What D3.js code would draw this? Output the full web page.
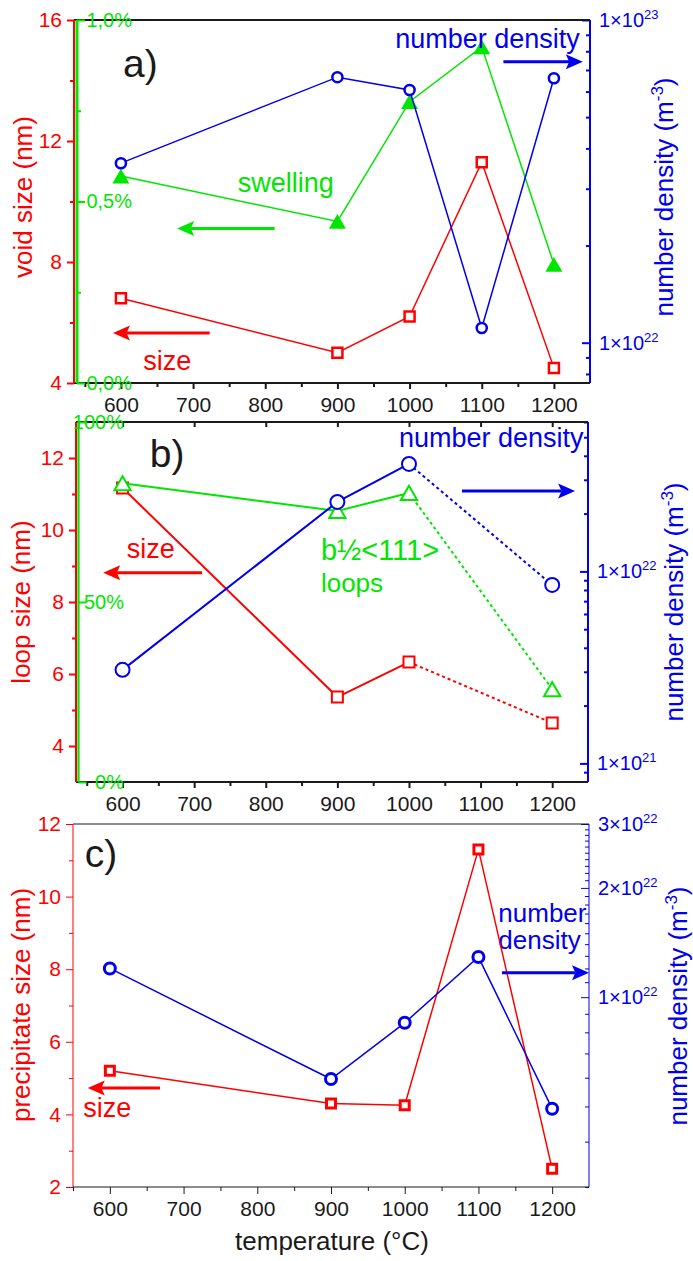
<!DOCTYPE html>
<html>
<head>
<meta charset="utf-8">
<title>voids, loops and precipitates vs temperature</title>
<script src="https://cdn.jsdelivr.net/npm/d3@7/dist/d3.min.js"></script>
<style>
  body { margin: 0; background: #fff; }
  svg text { font-family: "Liberation Sans", Arial, Helvetica, sans-serif; }
</style>
</head>
<body>
<div id="chart"></div>
<script>
// values
var tempsA = [600, 900, 1000, 1100, 1200];
var voidSize = [6.8, 5.0, 6.2, 11.3, 4.5];                      // nm
var swelling = [0.57, 0.445, 0.775, 0.926, 0.327];              // %
var voidDensity = [3.6e22, 6.65e22, 6.07e22, 1.11e22, 6.6e22];  // m^-3

var tempsB = [600, 900, 1000, 1200];
var loopSize = [11.17, 5.36, 6.33, 4.64];
var loopFraction = [83, 75.3, 80.3, 25.8];                      // % of b1/2<111>
var loopDensity = [3.07e21, 2.3e22, 3.63e22, 8.5e21];

var tempsC = [600, 900, 1000, 1100, 1200];
var precSize = [5.2, 4.3, 4.25, 11.3, 2.5];
var precDensity = [1.2e22, 5.95e21, 8.5e21, 1.29e22, 4.93e21];

// ticks
var tempTicks = [600, 700, 800, 900, 1000, 1100, 1200];
var tempMinor = [550, 650, 750, 850, 950, 1050, 1150];
var voidTicks = [4, 8, 12, 16], voidMinor = [6, 10, 14];
var swellTicks = [0, 0.5, 1], swellMinor = [0.25, 0.75];
var loopTicks = [4, 6, 8, 10, 12], loopMinor = [5, 7, 9, 11];
var fracTicks = [0, 50, 100];
var precTicks = [2, 4, 6, 8, 10, 12], precMinor = [3, 5, 7, 9, 11];
var densTicksA = [1e22, 1e23];
var densMinorA = [8e21, 9e21, 2e22, 3e22, 4e22, 5e22, 6e22, 7e22, 8e22, 9e22];
var densTicksB = [1e21, 1e22];
var densMinorB = [9e20, 2e21, 3e21, 4e21, 5e21, 6e21, 7e21, 8e21, 9e21, 2e22, 3e22, 4e22, 5e22, 6e22];
var densTicksC = [1e22, 2e22, 3e22];
var densMinorC = d3.range(3, 30).filter(function (k) { return k != 10 && k != 20; })
                   .map(function (k) { return k * 1e21; });

var RED = "#ff0000", GREEN = "#00e600", BLUE = "#0000ee", INK = "#1a1a1a";

var svg = d3.select("#chart").append("svg").attr("width", 693).attr("height", 1261);

function tidy(g, color, w, fs) {
  g.select(".domain").remove();
  g.selectAll(".tick line").attr("stroke", color).attr("stroke-width", w);
  g.selectAll(".tick text").attr("fill", color).style("font-size", fs || "21px");
  return g;
}

function axisX(g, x, y0, o) {
  tidy(g.append("g").attr("transform", "translate(0," + y0 + ")")
    .call(d3.axisBottom(x).tickValues(tempTicks).tickFormat(d3.format("d"))
      .tickSize(o.major).tickPadding(o.pad).tickSizeOuter(0)), INK, o.w);
  tidy(g.append("g").attr("transform", "translate(0," + y0 + ")")
    .call(d3.axisBottom(x).tickValues(tempMinor).tickSize(o.minor).tickFormat("")), INK, o.w);
}

function axisL(g, y, x0, major, minor, w) {
  tidy(g.append("g").attr("transform", "translate(" + x0 + ",0)")
    .call(d3.axisLeft(y).tickValues(major).tickSize(7).tickPadding(5).tickSizeOuter(0)), RED, w);
  tidy(g.append("g").attr("transform", "translate(" + x0 + ",0)")
    .call(d3.axisLeft(y).tickValues(minor).tickSize(4).tickFormat("")), RED, w);
}

function axisG(g, s, x0, major, minor, fmt, labelEnd) {
  var a = tidy(g.append("g").attr("transform", "translate(" + x0 + ",0)")
    .call(d3.axisRight(s).tickValues(major).tickSize(8).tickFormat(fmt).tickSizeOuter(0)), GREEN, 2, "20px");
  a.selectAll(".tick text").attr("x", labelEnd - x0).attr("text-anchor", "end");
  if (minor) {
    tidy(g.append("g").attr("transform", "translate(" + x0 + ",0)")
      .call(d3.axisRight(s).tickValues(minor).tickSize(4).tickFormat("")), GREEN, 2);
  }
}

function axisR(g, y, x0, major, minor, w) {
  var a = tidy(g.append("g").attr("transform", "translate(" + x0 + ",0)")
    .call(d3.axisRight(y).tickValues(major).tickSizeInner(-8).tickSizeOuter(0).tickPadding(9)), BLUE, w, "20px");
  a.selectAll(".tick text").each(function (d) {
    var e = Math.floor(Math.log10(d) + 1e-9), m = Math.round(d / Math.pow(10, e));
    var t = d3.select(this).text(null);
    t.append("tspan").text(m + "\u00d710");
    t.append("tspan").attr("dy", "-8").style("font-size", "13px").text(e);
  });
  tidy(g.append("g").attr("transform", "translate(" + x0 + ",0)")
    .call(d3.axisRight(y).tickValues(minor).tickSizeInner(-4).tickSizeOuter(0).tickFormat("")), BLUE, w);
}

function frame(g, x, yr, w, greenX, greenW) {
  var x0 = x.range()[0], x1 = x.range()[1], y0 = yr[0], y1 = yr[1];
  function ln(a, b, c, d, col, sw) {
    g.append("line").attr("x1", a).attr("y1", b).attr("x2", c).attr("y2", d)
      .attr("stroke", col).attr("stroke-width", sw);
  }
  ln(x0, y1, x1, y1, INK, w);
  ln(x0, y0, x1, y0, INK, w);
  ln(x0, y0, x0, y1, RED, w);
  if (greenX) ln(greenX, y0, greenX, y1, GREEN, greenW);
  ln(x1, y0, x1, y1, BLUE, w);
}

function series(g, x, y, temps, vals, o) {
  var pts = temps.map(function (t, i) { return {t: t, v: vals[i]}; });
  var line = d3.line().x(function (d) { return x(d.t); }).y(function (d) { return y(d.v); });
  var solid = o.dashFrom ? pts.filter(function (d) { return d.t <= o.dashFrom; }) : pts;
  g.append("path").datum(solid).attr("d", line).attr("fill", "none")
    .attr("stroke", o.color).attr("stroke-width", o.lw);
  if (o.dashFrom) {
    g.append("path").datum(pts.filter(function (d) { return d.t >= o.dashFrom; }))
      .attr("d", line).attr("fill", "none").attr("stroke", o.color)
      .attr("stroke-width", o.lw).attr("stroke-dasharray", "3,3");
  }
  var shift = o.shape === d3.symbolTriangle ? Math.sqrt(o.size / (3 * Math.sqrt(3))) / 2 : 0;
  g.selectAll(null).data(pts).enter().append("path")
    .attr("transform", function (d) { return "translate(" + x(d.t) + "," + (y(d.v) + shift) + ")"; })
    .attr("d", d3.symbol().type(o.shape).size(o.size))
    .attr("fill", o.filled ? o.color : "#fff")
    .attr("stroke", o.color).attr("stroke-width", o.filled ? 0 : o.sw);
}

function arrow(g, x, y, t1, t2, v, color) {
  var x1 = x(t1), x2 = x(t2), yy = y(v), dir = x2 > x1 ? 1 : -1, L = 17, h = 7.5;
  g.append("line").attr("x1", x1).attr("y1", yy).attr("x2", x2 - dir * L * 0.8).attr("y2", yy)
    .attr("stroke", color).attr("stroke-width", 3);
  g.append("path")
    .attr("d", "M" + x2 + "," + yy + "L" + (x2 - dir * L) + "," + (yy - h) +
               "L" + (x2 - dir * L * 0.8) + "," + yy + "L" + (x2 - dir * L) + "," + (yy + h) + "Z")
    .attr("fill", color);
}

function note(g, x, y, t, v, txt, color, fs) {
  return g.append("text").attr("x", x(t)).attr("y", y(v)).attr("fill", color)
    .style("font-size", fs + "px").text(txt);
}

function leftTitle(px, py, txt) {
  svg.append("text").attr("transform", "translate(" + px + "," + py + ") rotate(-90)")
    .attr("text-anchor", "middle").attr("fill", RED).style("font-size", "26px").text(txt);
}

function rightTitle(px, py) {
  var t = svg.append("text").attr("transform", "translate(" + px + "," + py + ") rotate(-90)")
    .attr("text-anchor", "middle").attr("fill", BLUE).style("font-size", "26px");
  t.append("tspan").text("number density (m");
  t.append("tspan").attr("dy", "-10").style("font-size", "17px").text("-3");
  t.append("tspan").attr("dy", "10").text(")");
}

// ---------- a) voids ----------
var gA = svg.append("g");
var xA = d3.scaleLinear().domain([535, 1250]).range([74, 590]);
var yA = d3.scaleLinear().domain([4, 16]).range([383, 20]);
var sA = d3.scaleLinear().domain([0, 1]).range([383, 20]);
var dA = d3.scaleLog().domain([7.5e21, 1e23]).range([383, 20]);

axisX(gA, xA, 383, {major: 6, minor: 4, pad: 8, w: 2});
axisL(gA, yA, 74, voidTicks, voidMinor, 2);
axisR(gA, dA, 590, densTicksA, densMinorA, 2);
frame(gA, xA, yA.range(), 2, 77, 3);
axisG(gA, sA, 77, swellTicks, swellMinor,
  function (d) { return d3.format(".1f")(d).replace(".", ",") + "%"; }, 132);

series(gA, xA, yA, tempsA, voidSize, {color: RED, lw: 1.5, shape: d3.symbolSquare, size: 100, sw: 2.5});
series(gA, xA, sA, tempsA, swelling, {color: GREEN, lw: 1.5, shape: d3.symbolTriangle, size: 125, filled: true});
series(gA, xA, dA, tempsA, voidDensity, {color: BLUE, lw: 1.5, shape: d3.symbolCircle, size: 80, sw: 2.5});

note(gA, xA, yA, 603, 14.12, "a)", INK, 39);
note(gA, xA, yA, 980, 15.08, "number density", BLUE, 27);
arrow(gA, xA, yA, 1130, 1240, 14.62, BLUE);
note(gA, xA, yA, 762, 10.3, "swelling", GREEN, 27);
arrow(gA, xA, yA, 813, 678, 9.11, GREEN);
arrow(gA, xA, yA, 723, 589, 5.65, RED);
note(gA, xA, yA, 631, 4.43, "size", RED, 27);

// ---------- b) loops ----------
var gB = svg.append("g");
var xB = d3.scaleLinear().domain([535, 1250]).range([76, 588]);
var yB = d3.scaleLinear().domain([3, 13]).range([782, 422]);
var fB = d3.scaleLinear().domain([0, 100]).range([782, 422]);
var dB = d3.scaleLog().domain([8e20, 6e22]).range([782, 422]);

axisX(gB, xB, 782, {major: 6, minor: 4, pad: 8, w: 2});
tidy(gB.append("g").attr("transform", "translate(0,422)")
  .call(d3.axisBottom(xB).tickValues(tempTicks).tickSize(5).tickFormat("")), INK, 2);
axisL(gB, yB, 76, loopTicks, loopMinor, 2);
axisR(gB, dB, 588, densTicksB, densMinorB, 2);
frame(gB, xB, yB.range(), 2, 78.5, 2.2);
axisG(gB, fB, 78.5, fracTicks, null, function (d) { return d + "%"; }, 124);

series(gB, xB, yB, tempsB, loopSize, {color: RED, lw: 2, shape: d3.symbolSquare, size: 121, sw: 2, dashFrom: 1000});
series(gB, xB, fB, tempsB, loopFraction, {color: GREEN, lw: 2, shape: d3.symbolTriangle, size: 115, sw: 2, dashFrom: 1000});
series(gB, xB, dB, tempsB, loopDensity, {color: BLUE, lw: 2, shape: d3.symbolCircle, size: 154, sw: 2, dashFrom: 1000});

note(gB, xB, yB, 638, 11.75, "b)", INK, 39);
note(gB, xB, yB, 986, 12.3, "number density", BLUE, 27);
arrow(gB, xB, yB, 1074, 1232, 11.08, BLUE);
note(gB, xB, yB, 606, 9.22, "size", RED, 27);
arrow(gB, xB, yB, 711, 573, 8.81, RED);
note(gB, xB, yB, 877, 9.17, "b\u00bd<111>", GREEN, 29);
note(gB, xB, yB, 877, 8.28, "loops", GREEN, 26);

// ---------- c) precipitates ----------
var gC = svg.append("g");
var xC = d3.scaleLinear().domain([550, 1250]).range([73, 589]);
var yC = d3.scaleLinear().domain([2, 12]).range([1187, 824]);
var dC = d3.scaleLog().domain([3e21, 3e22]).range([1187, 824]);

note(gC, xC, yC, 1127, 9.3, "number", BLUE, 26);
note(gC, xC, yC, 1127, 8.56, "density", BLUE, 26);

axisX(gC, xC, 1187, {major: 7, minor: 4, pad: 7, w: 1});
axisL(gC, yC, 73, precTicks, precMinor, 1);
axisR(gC, dC, 589, densTicksC, densMinorC, 1);
frame(gC, xC, yC.range(), 1);

series(gC, xC, yC, tempsC, precSize, {color: RED, lw: 1.5, shape: d3.symbolSquare, size: 81, sw: 3});
series(gC, xC, dC, tempsC, precDensity, {color: BLUE, lw: 1.5, shape: d3.symbolCircle, size: 95, sw: 3});

note(gC, xC, yC, 566, 10.82, "c)", INK, 39);
arrow(gC, xC, yC, 1132, 1250, 7.9, BLUE);
note(gC, xC, yC, 564, 3.93, "size", RED, 27);
arrow(gC, xC, yC, 668, 570, 4.73, RED);

// ---------- axis titles ----------
leftTitle(32, 197, "void size (nm)");
leftTitle(30, 602, "loop size (nm)");
leftTitle(30, 1005, "precipitate size (nm)");
rightTitle(673, 197);
rightTitle(683, 602);
rightTitle(687, 1006);
svg.append("text").attr("x", 332).attr("y", 1250).attr("text-anchor", "middle")
  .attr("fill", INK).style("font-size", "26px").text("temperature (\u00b0C)");
</script>
</body>
</html>
